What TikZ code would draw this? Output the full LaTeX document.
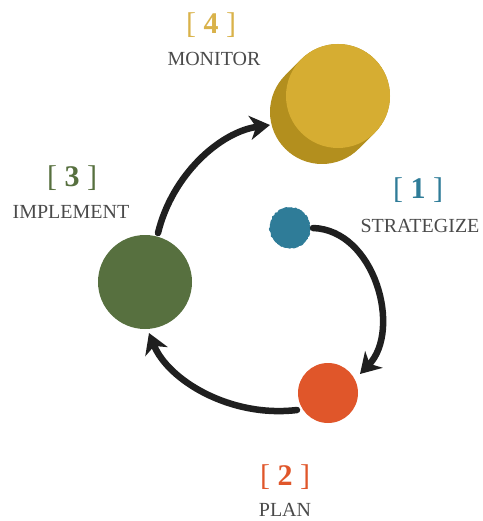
\documentclass[tikz,border=0pt]{standalone}
\usepackage{fontspec}
\setmainfont{Liberation Serif}
\usetikzlibrary{arrows.meta,decorations.pathmorphing}
\definecolor{cgold}{HTML}{D6AD32}
\definecolor{cgoldside}{HTML}{B38F1E}
\definecolor{cgoldtxt}{HTML}{D9B24A}
\definecolor{cblue}{HTML}{2F7C98}
\definecolor{corange}{HTML}{E0562A}
\definecolor{cgreen}{HTML}{57703F}
\definecolor{ctext}{HTML}{4A4A4A}
\begin{document}
\begin{tikzpicture}[x=1pt,y=-1pt,
  disc/.style={circle,inner sep=0pt,minimum size=#1},
  brush/.style={line width=6.5pt,line cap=round,black!88,
    -{Stealth[length=20pt,width=24pt,inset=6pt]}},
  numlbl/.style={font=\fontsize{30}{30}\selectfont},
  wordlbl/.style={font=\fontsize{20}{20}\selectfont,text=ctext}]
\useasboundingbox (0,0) rectangle (482,521);
% yellow cylinder
\draw[line width=104pt,cgoldside,line cap=round] (338,96) -- (322,112);
\node[disc=104pt,fill=cgold] (n4) at (338,96) {};
% other discs
\node[disc=40pt,fill=cblue,draw=cblue,line width=1pt,decorate,decoration={random steps,segment length=1.5pt,amplitude=0.7pt}] (n1) at (290,228) {};
\node[disc=60pt,fill=corange] (n2) at (328,393) {};
\node[disc=94pt,fill=cgreen] (n3) at (145,282) {};
% connectors
\coordinate (s1) at (313,228);
\coordinate (e1) at (360,374);
\coordinate (s2) at (297,410);
\coordinate (e2) at (149,333);
\coordinate (s3) at (158,233);
\coordinate (e3) at (270,125);
\draw[brush] (s1) .. controls (375,230) and (402,330) .. (e1);
\draw[brush] (s2) .. controls (230,418) and (168,380) .. (e2);
\draw[brush] (s3) .. controls (172,175) and (220,132) .. (e3);
% labels
\node[numlbl,text=cgoldtxt] (t4) at (211,25) {[ \textbf{4} ]};
\node[wordlbl] (w4) at (214,59) {MONITOR};
\node[numlbl,text=cgreen] (t3) at (72,178) {[ \textbf{3} ]};
\node[wordlbl] (w3) at (71,212) {IMPLEMENT};
\node[numlbl,text=cblue] (t1) at (418,190) {[ \textbf{1} ]};
\node[wordlbl] (w1) at (420,226) {STRATEGIZE};
\node[numlbl,text=corange] (t2) at (285,477) {[ \textbf{2} ]};
\node[wordlbl] (w2) at (285,510) {PLAN};
\end{tikzpicture}
\end{document}
